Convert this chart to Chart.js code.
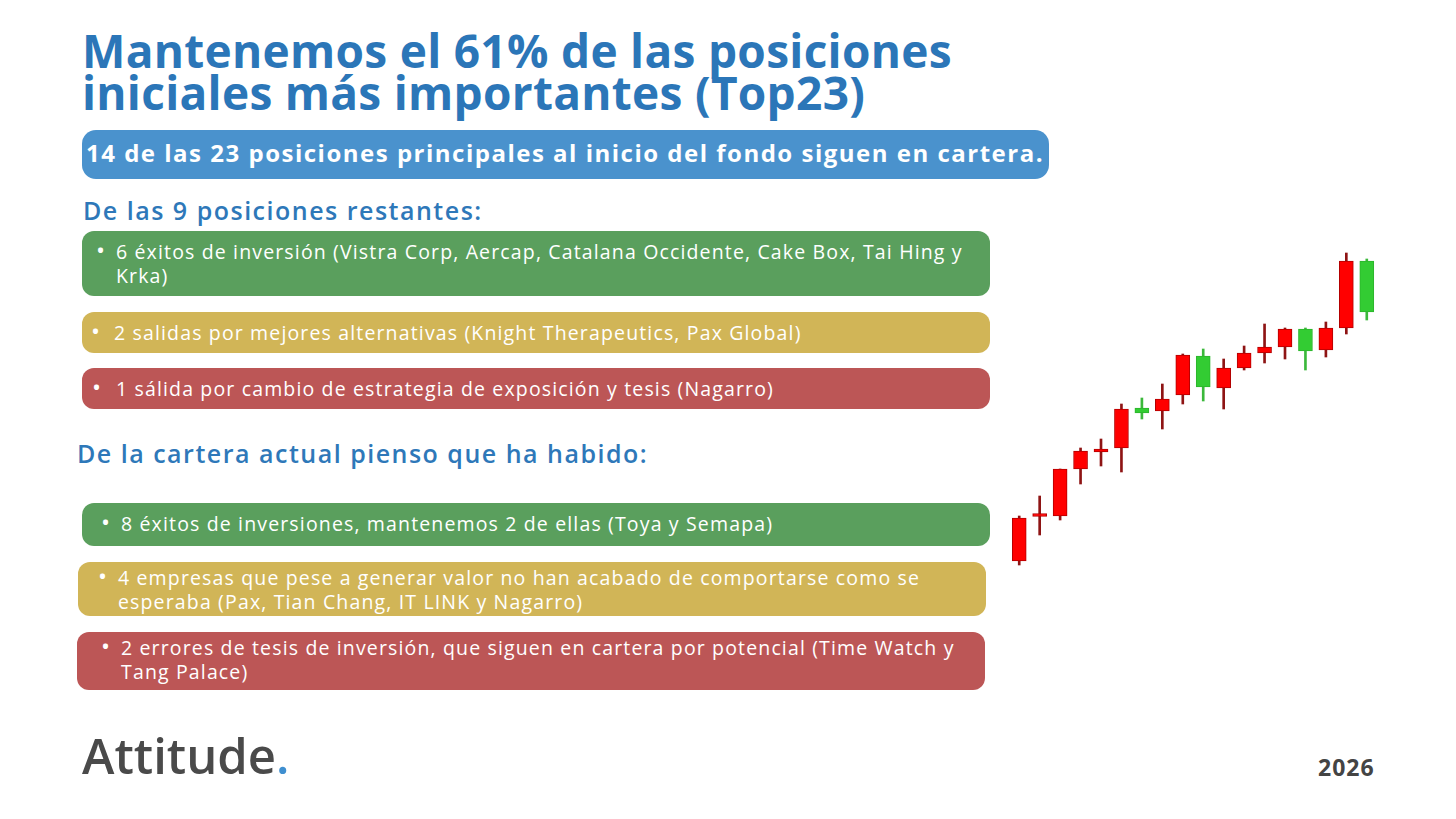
<!DOCTYPE html>
<html>
<head>
<meta charset="utf-8">
<script src="https://cdn.jsdelivr.net/npm/chart.js@4.4.1/dist/chart.umd.min.js"></script>
<style>
  html, body { margin: 0; padding: 0; background: #ffffff; }
  body { width: 1456px; height: 819px; position: relative; overflow: hidden; font-family: "Open Sans", "DejaVu Sans", sans-serif; }
  .t { position: absolute; white-space: nowrap; }
  .title { left: 82px; font-size: 46px; font-weight: 700; color: #2b76b8; line-height: 42px; letter-spacing: 0.3px; }
  .pill { position: absolute; left: 82px; top: 130px; width: 967px; height: 49px; background: #4a92cd; border-radius: 14px; }
  .pill span { position: absolute; left: 4px; top: 6px; font-size: 24px; font-weight: 700; color: #fff; white-space: nowrap; letter-spacing: 1.5px; }
  .sub { font-size: 25px; font-weight: 600; color: #2e78b9; letter-spacing: 1.5px; }
  .box { position: absolute; border-radius: 12px; color: #fff; font-size: 19.5px; line-height: 24px; letter-spacing: 1.15px; }
  .box .b { position: absolute; white-space: nowrap; }
  .box .p { position: absolute; white-space: nowrap; font-size: 24px; letter-spacing: 0; }
  .g { background: #5a9f5d; }
  .y { background: #d1b557; }
  .r { background: #bc5656; }
  .logo { left: 82px; top: 722px; font-size: 49px; font-weight: 600; color: #4a4a4a; }
  .logo i { font-style: normal; color: #3f8fd0; }
  .year { left: 1318px; top: 751px; font-size: 23px; font-weight: 700; color: #444; letter-spacing: 1px; }
  #wrap { position: absolute; left: 1009px; top: 240px; width: 368px; height: 340px; }
</style>
</head>
<body>
<div class="t title" style="top:29px;">Mantenemos el 61% de las posiciones</div>
<div class="t title" style="top:71px;">iniciales más importantes (Top23)</div>

<div class="pill"><span>14 de las 23 posiciones principales al inicio del fondo siguen en cartera.</span></div>

<div class="t sub" style="left:83px; top:193px;">De las 9 posiciones restantes:</div>

<div class="box g" style="left:82px; top:231px; width:908px; height:65px;">
  <div class="p" style="left:14px; top:7px;">•</div>
  <div class="b" style="left:34px; top:9px;">6 éxitos de inversión (Vistra Corp, Aercap, Catalana Occidente, Cake Box, Tai Hing y<br>Krka)</div>
</div>
<div class="box y" style="left:82px; top:312px; width:908px; height:41px;">
  <div class="p" style="left:9px; top:7px;">•</div>
  <div class="b" style="left:32px; top:9px;">2 salidas por mejores alternativas (Knight Therapeutics, Pax Global)</div>
</div>
<div class="box r" style="left:82px; top:368px; width:908px; height:41px;">
  <div class="p" style="left:10px; top:7px;">•</div>
  <div class="b" style="left:34px; top:9px;">1 sálida por cambio de estrategia de exposición y tesis (Nagarro)</div>
</div>

<div class="t sub" style="left:77px; top:436px;">De la cartera actual pienso que ha habido:</div>

<div class="box g" style="left:82px; top:503px; width:908px; height:43px;">
  <div class="p" style="left:19px; top:7px;">•</div>
  <div class="b" style="left:39px; top:9px;">8 éxitos de inversiones, mantenemos 2 de ellas (Toya y Semapa)</div>
</div>
<div class="box y" style="left:78px; top:562px; width:908px; height:54px;">
  <div class="p" style="left:20px; top:2px;">•</div>
  <div class="b" style="left:40px; top:4px;">4 empresas que pese a generar valor no han acabado de comportarse como se<br>esperaba (Pax, Tian Chang, IT LINK y Nagarro)</div>
</div>
<div class="box r" style="left:77px; top:632px; width:908px; height:58px;">
  <div class="p" style="left:24px; top:2px;">•</div>
  <div class="b" style="left:44px; top:4px;">2 errores de tesis de inversión, que siguen en cartera por potencial (Time Watch y<br>Tang Palace)</div>
</div>

<div class="t logo">Attitude<i>.</i></div>
<div class="t year">2026</div>

<div id="wrap"><canvas id="velas"></canvas></div>

<script>
// velas decorativas (unidades de precio arbitrarias)
var sesiones = ['1','2','3','4','5','6','7','8','9','10','11','12','13','14','15','16','17','18'];
var apertura = [82, 84.5, 131, 149, 151, 191, 187, 201, 245, 213, 232, 247, 253, 271, 249, 272, 339, 288];
var cierre   = [39, 83.5, 84, 131, 148, 152, 192, 189, 205, 244, 212, 232, 247, 253, 271, 250, 272, 339];
var maximo   = [84, 104, 131, 152, 161, 196, 202, 216, 246, 251, 241, 254, 276, 272, 272, 278, 347, 341];
var minimo   = [35, 65, 80, 116, 134, 128, 181, 171, 196, 199, 191, 230, 237, 241, 230, 243, 266, 280];

var sube = cierre.map(function (c, i) { return c >= apertura[i]; });

var ctx = document.getElementById('velas').getContext('2d');
var myChart = new Chart(ctx, {
  type: 'bar',
  data: {
    labels: sesiones,
    datasets: [{
      label: 'Cuerpo',
      data: apertura.map(function (o, i) { return [o, cierre[i]]; }),
      backgroundColor: sube.map(function (s) { return s ? '#33cc33' : '#ff0000'; }),
      borderColor: sube.map(function (s) { return s ? '#2cb52c' : '#b30000'; }),
      borderWidth: 1,
      borderSkipped: false,
      barThickness: 14,
      minBarLength: 3,
      grouped: false,
      order: 0
    }, {
      label: 'Mecha',
      data: minimo.map(function (l, i) { return [l, maximo[i]]; }),
      backgroundColor: sube.map(function (s) { return s ? '#3bb83b' : '#8e1414'; }),
      borderWidth: 0,
      barThickness: 2,
      grouped: false,
      order: 1
    }]
  },
  options: {
    responsive: true,
    maintainAspectRatio: false,
    animation: false,
    layout: { padding: 0 },
    plugins: {
      legend: { display: false },
      tooltip: { enabled: false }
    },
    scales: {
      x: { display: false },
      y: { display: false, min: 20, max: 360 }
    }
  }
});
</script>
</body>
</html>
